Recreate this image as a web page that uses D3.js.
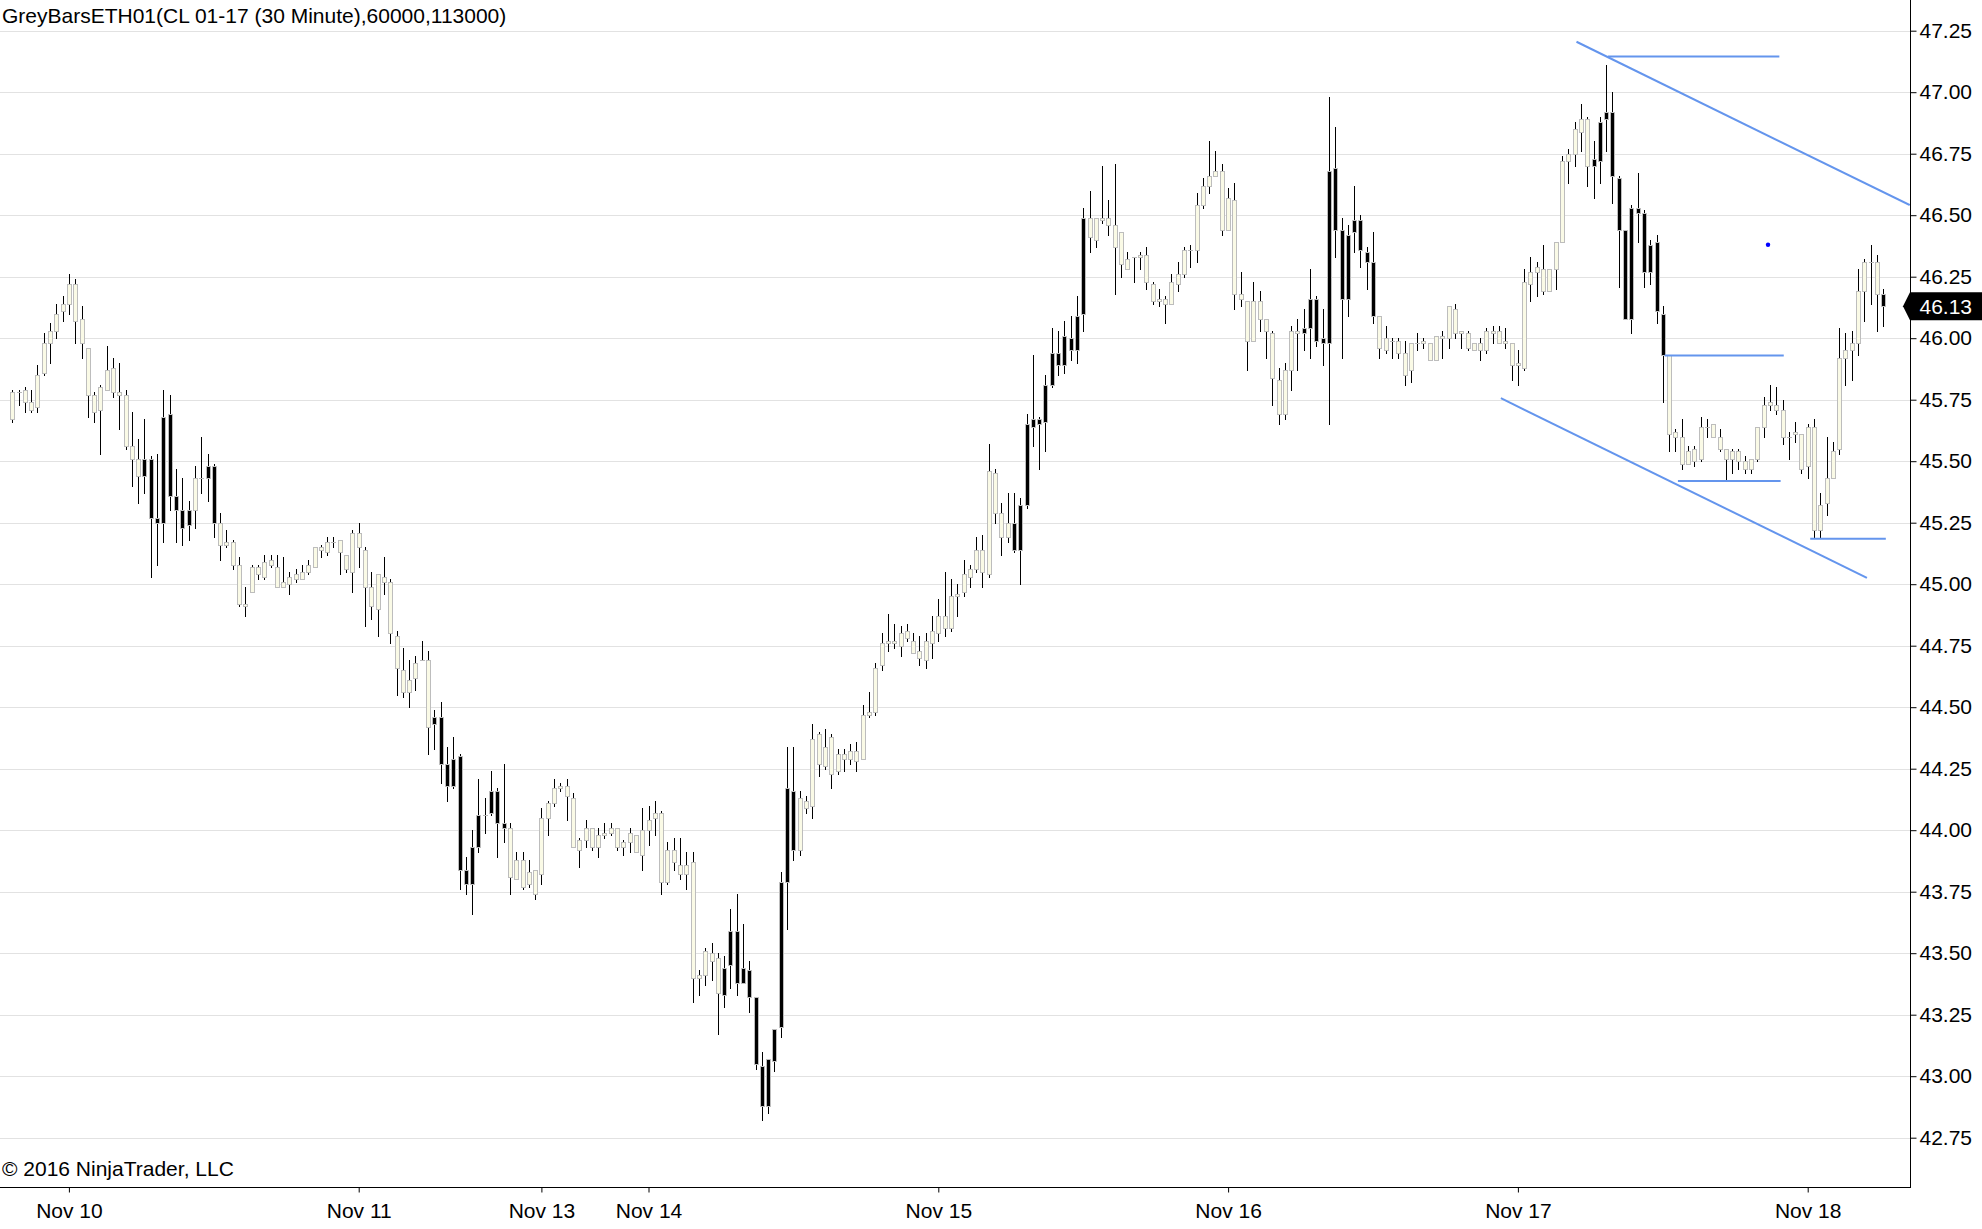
<!DOCTYPE html>
<html><head><meta charset="utf-8">
<script src="https://cdn.jsdelivr.net/npm/d3@7"></script>
<style>
html,body{margin:0;padding:0;background:#fff;}
svg{display:block;font-family:"Liberation Sans",Arial,Helvetica,sans-serif;}
</style></head><body>
<svg id="chart" width="1982" height="1229"></svg>
<script>
// ---------------- DATA ----------------
const chartTitle = "GreyBarsETH01(CL 01-17 (30 Minute),60000,113000)";
const copyrightText = "\u00A9 2016 NinjaTrader, LLC";

const opens = [
45.67,45.78,45.79,45.74,45.72,45.86,45.98,46.03,46.11,46.14,46.22,46.08,45.96,45.77,45.71,45.79,45.88,45.78,45.77,45.56,
45.51,45.44,45.51,45.27,45.25,45.69,45.36,45.30,45.24,45.30,45.43,45.43,45.48,45.25,45.16,45.17,45.08,44.92,44.97,45.07,
45.03,45.08,45.07,44.99,45.00,45.02,45.02,45.05,45.07,45.15,45.13,
45.17,45.18,45.12,45.05,45.21,45.14,44.99,44.90,45.03,45.01,44.79,44.65,44.56,44.62,44.69,44.69,44.43,44.46,44.27,44.18,
44.30,43.84,43.78,43.93,44.06,44.07,44.16,44.03,44.01,43.80,43.88,43.78,43.84,43.82,44.05,44.11,44.17,44.18,44.13,43.92,
43.96,44.01,43.93,43.98,43.99,44.01,43.93,43.95,43.98,43.90,44.00,44.05,
44.07,43.79,43.92,43.86,43.82,43.87,43.40,43.41,43.50,43.48,43.33,43.45,43.59,43.38,43.43,43.32,43.04,42.88,43.06,43.20,
43.79,44.16,43.92,44.12,44.10,44.39,44.26,44.38,44.24,44.31,44.29,44.32,44.29,44.47,44.48,44.67,44.76,44.77,44.75,44.78,
44.77,44.73,44.69,44.76,44.80,44.87,44.82,44.95,44.97,45.03,45.06,45.14,
45.04,45.45,45.29,45.19,45.25,45.14,45.32,45.64,45.67,45.66,45.81,45.94,45.89,46.00,45.95,46.10,46.49,46.40,46.49,46.49,
46.46,46.43,46.28,46.33,46.33,46.34,46.22,46.15,46.16,46.14,46.22,46.26,46.36,46.36,46.54,46.62,46.66,46.68,46.44,46.56,
46.18,46.15,45.99,46.15,46.08,46.02,45.83,45.69,45.87,46.03,46.02,46.04,
46.16,46.00,45.98,46.69,46.44,46.16,46.43,46.48,46.35,46.31,46.09,45.95,45.99,45.99,45.94,45.87,45.98,45.98,45.98,45.91,
46.01,46.00,46.12,46.02,46.02,45.95,45.98,45.95,46.03,46.03,45.98,45.98,45.89,45.88,46.22,46.27,46.28,46.19,46.28,46.39,
46.72,46.75,46.84,46.89,46.70,46.72,46.89,46.92,46.65,46.44,46.08,46.53,
46.51,46.27,46.39,46.10,45.93,45.62,45.60,45.49,45.50,45.51,45.64,45.65,45.60,45.55,45.51,45.54,45.50,45.47,45.51,45.64,
45.73,45.73,45.71,45.60,45.61,45.61,45.48,45.64,45.22,45.33,45.43,45.55,45.92,45.95,45.98,46.19,46.31,46.31,46.18
];
const highs = [
45.79,45.79,45.80,45.79,45.89,46.02,46.06,46.14,46.17,46.26,46.24,46.13,45.96,45.78,45.81,45.97,45.92,45.90,45.79,45.70,
45.59,45.67,45.52,45.53,45.79,45.77,45.47,45.43,45.34,45.48,45.60,45.53,45.49,45.29,45.22,45.18,45.11,44.99,45.08,45.08,
45.12,45.12,45.12,45.11,45.05,45.06,45.08,45.10,45.15,45.16,45.19,
45.19,45.18,45.12,45.22,45.25,45.15,45.05,45.04,45.11,45.02,44.81,44.74,44.69,44.71,44.77,44.73,44.49,44.52,44.34,44.38,
44.31,43.89,44.00,44.21,44.13,44.24,44.17,44.27,44.03,43.91,43.91,43.88,43.84,44.09,44.12,44.21,44.19,44.21,44.15,43.97,
44.04,44.01,44.01,44.03,44.03,44.01,43.96,44.01,43.98,44.09,44.10,44.12,
44.08,43.95,43.97,43.97,43.91,43.91,43.43,43.52,43.54,43.50,43.49,43.68,43.74,43.62,43.47,43.32,43.10,43.07,43.19,43.83,
44.34,44.34,44.16,44.14,44.43,44.40,44.41,44.39,44.33,44.33,44.35,44.36,44.51,44.56,44.68,44.80,44.88,44.84,44.83,44.84,
44.80,44.79,44.80,44.87,44.94,45.05,45.02,45.00,45.10,45.08,45.19,45.20,
45.57,45.47,45.33,45.37,45.37,45.35,45.69,45.93,45.68,45.85,46.04,46.03,46.07,46.09,46.17,46.53,46.60,46.49,46.70,46.56,
46.71,46.43,46.35,46.33,46.35,46.37,46.23,46.20,46.17,46.26,46.31,46.37,46.38,46.59,46.65,46.80,46.76,46.71,46.61,46.63,
46.27,46.15,46.23,46.19,46.08,46.03,45.88,45.90,46.05,46.08,46.12,46.28,
46.17,46.12,46.98,46.86,46.49,46.46,46.62,46.50,46.37,46.43,46.09,46.05,46.00,46.00,45.99,45.98,46.02,46.00,45.98,46.01,
46.03,46.13,46.14,46.03,46.03,45.98,46.00,46.04,46.05,46.05,46.04,45.98,45.95,46.28,46.33,46.31,46.38,46.28,46.39,46.74,
46.77,46.88,46.95,46.90,46.80,46.90,47.11,47.00,46.66,46.44,46.54,46.67,
46.52,46.40,46.42,46.13,45.93,45.63,45.67,45.56,45.56,45.68,45.67,45.65,45.63,45.55,45.55,45.55,45.52,45.51,45.64,45.76,
45.81,45.80,45.75,45.62,45.66,45.61,45.65,45.67,45.37,45.60,45.58,46.04,46.02,46.03,46.28,46.32,46.38,46.34,46.20
];
const lows = [
45.66,45.73,45.70,45.70,45.70,45.85,45.90,46.00,46.07,46.10,45.98,45.92,45.68,45.66,45.53,45.79,45.76,45.63,45.55,45.40,
45.33,45.37,45.03,45.08,45.17,45.30,45.17,45.16,45.18,45.23,45.37,45.34,45.19,45.10,45.15,45.06,44.91,44.87,44.97,45.02,
45.02,45.07,44.99,44.99,44.96,45.01,45.02,45.04,45.07,45.11,45.12,
45.15,45.04,45.05,44.97,45.07,44.83,44.86,44.79,44.96,44.76,44.55,44.54,44.50,44.57,44.69,44.31,44.33,44.19,44.12,44.17,
43.76,43.74,43.66,43.91,43.99,44.06,43.89,43.95,43.74,43.80,43.76,43.77,43.72,43.78,43.98,44.10,44.16,44.04,43.93,43.85,
43.93,43.92,43.89,43.97,43.98,43.92,43.90,43.91,43.91,43.84,43.94,43.98,
43.74,43.78,43.84,43.80,43.76,43.30,43.33,43.37,43.39,43.17,43.28,43.36,43.33,43.38,43.26,43.03,42.82,42.85,43.02,43.16,
43.60,43.88,43.90,44.07,44.05,44.22,44.25,44.17,44.23,44.24,44.27,44.24,44.29,44.46,44.47,44.65,44.73,44.74,44.71,44.77,
44.72,44.67,44.66,44.70,44.77,44.79,44.81,44.87,44.95,44.99,45.05,44.99,
45.03,45.25,45.12,45.17,45.13,45.00,45.31,45.56,45.47,45.54,45.80,45.85,45.86,45.91,45.90,46.03,46.35,46.37,46.47,46.42,
46.18,46.25,46.28,46.23,46.28,46.20,46.14,46.13,46.06,46.14,46.19,46.25,46.29,46.31,46.53,46.59,46.66,46.42,46.44,46.12,
46.13,45.87,45.99,46.03,45.92,45.73,45.65,45.67,45.79,45.87,45.95,45.92,
45.97,45.89,45.65,46.33,45.92,46.09,46.35,46.29,46.20,46.06,45.92,45.94,45.92,45.92,45.81,45.82,45.95,45.96,45.91,45.91,
45.92,45.96,46.00,45.96,45.95,45.95,45.91,45.94,45.98,45.98,45.96,45.83,45.81,45.87,46.15,46.17,46.18,46.19,46.20,46.39,
46.63,46.70,46.76,46.62,46.57,46.63,46.76,46.55,46.21,46.08,46.02,46.39,
46.21,46.22,46.06,45.74,45.54,45.54,45.47,45.49,45.48,45.50,45.60,45.60,45.54,45.42,45.45,45.47,45.45,45.45,45.50,45.60,
45.71,45.69,45.57,45.51,45.58,45.45,45.43,45.19,45.19,45.28,45.43,45.53,45.81,45.83,45.93,46.07,46.14,46.03,46.05
];
const closes = [
45.78,45.78,45.74,45.71,45.85,45.98,46.03,46.10,46.14,46.22,46.07,45.98,45.77,45.70,45.80,45.87,45.78,45.77,45.56,45.51,
45.44,45.51,45.27,45.25,45.68,45.36,45.30,45.23,45.30,45.43,45.43,45.48,45.25,45.16,45.17,45.08,44.92,44.91,45.07,45.04,
45.09,45.10,44.99,45.01,45.03,45.04,45.05,45.08,45.15,45.14,45.17,
45.17,45.13,45.06,45.21,45.15,44.99,44.91,45.04,45.01,44.80,44.66,44.56,44.61,44.68,44.69,44.42,44.46,44.27,44.18,44.29,
43.84,43.78,43.93,44.06,44.06,44.16,44.03,44.01,43.81,43.88,43.77,43.83,43.74,44.05,44.11,44.17,44.18,44.14,43.93,43.96,
44.01,43.93,43.98,43.99,44.01,43.93,43.95,43.99,43.91,44.00,44.04,44.07,
43.79,43.92,43.87,43.82,43.86,43.40,43.41,43.51,43.47,43.34,43.44,43.59,43.38,43.44,43.32,43.05,42.88,43.07,43.19,43.79,
44.17,43.92,44.13,44.09,44.37,44.27,44.34,44.23,44.31,44.29,44.32,44.28,44.47,44.48,44.66,44.76,44.77,44.76,44.80,44.81,
44.72,44.70,44.77,44.81,44.87,44.82,44.95,44.96,45.04,45.06,45.14,45.05,
45.46,45.29,45.19,45.25,45.14,45.32,45.65,45.67,45.65,45.81,45.94,45.89,46.01,45.95,46.09,46.49,46.41,46.49,46.48,46.46,
46.37,46.30,46.32,46.33,46.34,46.23,46.15,46.16,46.14,46.23,46.26,46.36,46.36,46.54,46.62,46.66,46.68,46.44,46.57,46.18,
46.16,45.99,46.15,46.08,46.03,45.84,45.69,45.87,46.03,46.02,46.04,46.16,
45.99,45.98,46.68,46.44,46.16,46.42,46.48,46.36,46.31,46.09,45.96,46.00,45.99,45.94,45.85,45.98,45.98,45.99,45.91,46.01,
46.00,46.13,46.02,46.03,45.96,45.98,45.95,46.03,46.02,45.98,45.99,45.89,45.90,46.23,46.27,46.29,46.19,46.28,46.39,46.72,
46.75,46.85,46.89,46.70,46.73,46.88,46.92,46.66,46.44,46.08,46.53,46.51,
46.27,46.38,46.11,45.93,45.61,45.60,45.49,45.54,45.55,45.64,45.64,45.60,45.55,45.51,45.54,45.50,45.47,45.51,45.64,45.73,
45.74,45.71,45.60,45.60,45.62,45.47,45.64,45.22,45.32,45.43,45.54,45.92,45.95,45.98,46.19,46.31,46.31,46.18,46.13
];
// bars painted black by the GreyBars indicator (inclusive index ranges)
const blackBarRanges = [[21,28],[31,32],[67,74],[76,78],[113,124],[159,170],[205,216],[251,262],[297,297]];

const priceTicks = [42.75,43.00,43.25,43.50,43.75,44.00,44.25,44.50,44.75,45.00,45.25,45.50,45.75,46.00,46.25,46.50,46.75,47.00,47.25];
const dateLabels = ["Nov 10","Nov 11","Nov 13","Nov 14","Nov 15","Nov 16","Nov 17","Nov 18"];
const dateBars   = [9, 55, 84, 101, 147, 193, 239, 285];

// drawing objects: [bar, price]
const channelUpper = [[248.3, 47.205],[301.2, 46.541]];
const channelLower = [[236.3, 45.756],[294.4, 45.026]];
// horizontal rays: [fromBar, toBar, price]
const hLines = [[253.3, 280.5, 47.145],[262.3, 281.2, 45.93],[264.4, 280.7, 45.42],[285.4, 297.4, 45.185]];
const dotMarker = [278.7, 46.38];

// ---------------- CHART ----------------
const svg = d3.select("#chart");
const plotRight = 1910, plotBottom = 1187;
const nBars = closes.length;

const x = d3.scaleLinear().domain([0, nBars - 1]).range([12.2, 12.2 + 6.3 * (nBars - 1)]);
const y = d3.scaleLinear().domain([42.75, 47.25]).range([1137.7, 30.7]);

const isBlack = i => blackBarRanges.some(r => i >= r[0] && i <= r[1]);

svg.append("rect").attr("width", 1982).attr("height", 1229).attr("fill", "#fff");

svg.append("defs").append("clipPath").attr("id", "plotClip")
  .append("rect").attr("x", 0).attr("y", 0).attr("width", plotRight).attr("height", plotBottom);

// grid
svg.append("g").selectAll("line").data(priceTicks).join("line")
  .attr("x1", 0).attr("x2", plotRight)
  .attr("y1", d => Math.round(y(d)) + 0.5).attr("y2", d => Math.round(y(d)) + 0.5)
  .attr("stroke", "#e2e2e2").attr("stroke-width", 1);

// title & copyright
svg.append("text").attr("x", 2).attr("y", 23).attr("font-size", 21).attr("fill", "#000").text(chartTitle);
svg.append("text").attr("x", 2).attr("y", 1176).attr("font-size", 21).attr("fill", "#000").text(copyrightText);

const plot = svg.append("g").attr("clip-path", "url(#plotClip)");

// candles
const bars = d3.range(nBars).map(i => ({i, o: opens[i], h: highs[i], l: lows[i], c: closes[i], black: isBlack(i)}));
const cg = plot.append("g").attr("shape-rendering", "crispEdges");
cg.selectAll("line.wick").data(bars).join("line").attr("class", "wick")
  .attr("x1", d => Math.round(x(d.i)) + 0.5).attr("x2", d => Math.round(x(d.i)) + 0.5)
  .attr("y1", d => Math.round(y(d.h))).attr("y2", d => Math.round(y(d.l)) + 1)
  .attr("stroke", "#000").attr("stroke-width", 1);

bars.forEach(d => {
  const cx = Math.round(x(d.i));
  const t = Math.round(y(Math.max(d.o, d.c)));
  const b = Math.round(y(Math.min(d.o, d.c)));
  if (b - t < 1) {
    cg.append("line").attr("x1", cx - 2).attr("x2", cx + 3)
      .attr("y1", t + 0.5).attr("y2", t + 0.5)
      .attr("stroke", "#b8b8b8").attr("stroke-width", 1);
  } else {
    cg.append("rect").attr("x", cx - 1.5).attr("y", t + 0.5)
      .attr("width", 4).attr("height", b - t)
      .attr("fill", d.black ? "#000" : "#fafae6")
      .attr("stroke", "#bdbdbd").attr("stroke-width", 1);
  }
});

// drawing objects
const lineGen = d3.line().x(p => x(p[0])).y(p => y(p[1]));
const dg = plot.append("g");
[channelUpper, channelLower].forEach(seg => {
  dg.append("path").attr("d", lineGen(seg)).attr("fill", "none")
    .attr("stroke", "#6495ed").attr("stroke-width", 2);
});
dg.selectAll("line.h").data(hLines).join("line").attr("class", "h")
  .attr("x1", d => x(d[0])).attr("x2", d => x(d[1]))
  .attr("y1", d => y(d[2])).attr("y2", d => y(d[2]))
  .attr("stroke", "#6495ed").attr("stroke-width", 2);
dg.append("circle").attr("cx", x(dotMarker[0])).attr("cy", y(dotMarker[1])).attr("r", 2.2).attr("fill", "#0000ff");

// axes
const yAxis = d3.axisRight(y).tickValues(priceTicks).tickFormat(d3.format(".2f"))
  .tickSize(6).tickPadding(3).tickSizeOuter(0);
const ya = svg.append("g").attr("transform", `translate(${plotRight + 0.5},0)`).call(yAxis);
ya.select(".domain").remove();
ya.selectAll("text").attr("font-size", 21).attr("font-family", "Liberation Sans, Arial, sans-serif").attr("fill", "#000");
ya.selectAll("line").attr("stroke", "#000");

const xAxis = d3.axisBottom(x).tickValues(dateBars).tickFormat((d, k) => dateLabels[k])
  .tickSize(5).tickPadding(11).tickSizeOuter(0);
const xa = svg.append("g").attr("transform", `translate(0,${plotBottom + 0.5})`).call(xAxis);
xa.select(".domain").remove();
xa.selectAll("text").attr("font-size", 21).attr("font-family", "Liberation Sans, Arial, sans-serif").attr("fill", "#000");
xa.selectAll("line").attr("stroke", "#000");

svg.append("line").attr("x1", plotRight + 0.5).attr("x2", plotRight + 0.5).attr("y1", 0).attr("y2", plotBottom + 1)
  .attr("stroke", "#000").attr("stroke-width", 1);
svg.append("line").attr("x1", 0).attr("x2", plotRight + 1).attr("y1", plotBottom + 0.5).attr("y2", plotBottom + 0.5)
  .attr("stroke", "#000").attr("stroke-width", 1);

// last price marker
const lastClose = closes[nBars - 1];
const ly = y(lastClose);
svg.append("path")
  .attr("d", `M${plotRight - 7},${ly} L${plotRight},${ly - 14} L1982,${ly - 14} L1982,${ly + 14} L${plotRight},${ly + 14} Z`)
  .attr("fill", "#000");
svg.append("text").attr("x", plotRight + 9.5).attr("y", ly).attr("dy", "0.35em")
  .attr("font-size", 21).attr("fill", "#fff").text(d3.format(".2f")(lastClose));
</script>
</body></html>
